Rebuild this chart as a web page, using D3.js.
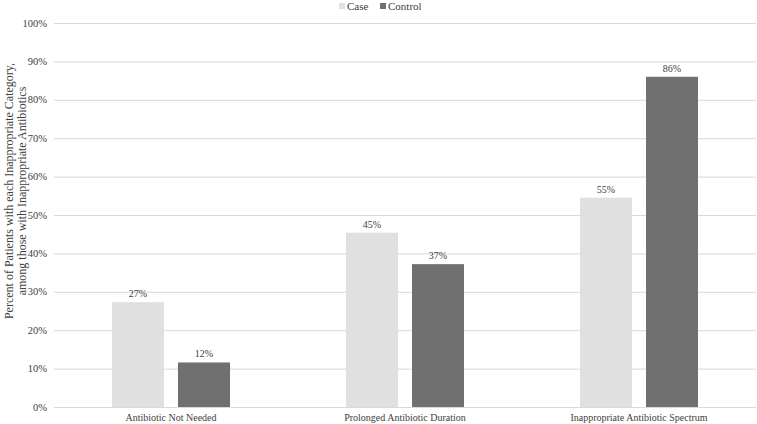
<!DOCTYPE html>
<html>
<head>
<meta charset="utf-8">
<script src="https://cdn.jsdelivr.net/npm/d3@7"></script>
<style>
  body { margin: 0; background: #fff; }
</style>
</head>
<body>
<div id="chart"></div>
<script>
var categories = ["Antibiotic Not Needed", "Prolonged Antibiotic Duration", "Inappropriate Antibiotic Spectrum"];
var seriesNames = ["Case", "Control"];
var caseValues = [27.3, 45.4, 54.5];
var controlValues = [11.6, 37.2, 86.0];
var yTicks = [0, 10, 20, 30, 40, 50, 60, 70, 80, 90, 100];
var colors = {Case: "#e0e0e0", Control: "#707070"};

var width = 757, height = 424;
var margin = {top: 23, right: 1, bottom: 17, left: 54};

var svg = d3.select("#chart").append("svg")
    .attr("width", width)
    .attr("height", height)
    .attr("font-family", "'Liberation Serif', 'DejaVu Serif', serif");

var x = d3.scaleBand().domain(categories).range([margin.left, width - margin.right]);
var y = d3.scaleLinear().domain([0, 100]).range([height - margin.bottom, margin.top]);

// gridlines
svg.append("g").selectAll("line")
    .data(yTicks)
    .enter().append("line")
    .attr("x1", margin.left)
    .attr("x2", width - margin.right)
    .attr("y1", function(d) { return y(d) + 0.5; })
    .attr("y2", function(d) { return y(d) + 0.5; })
    .attr("stroke", "#d9d9d9")
    .attr("stroke-width", 1);

// y tick labels
svg.append("g").selectAll("text")
    .data(yTicks)
    .enter().append("text")
    .attr("x", margin.left - 7)
    .attr("y", function(d) { return y(d); })
    .attr("dy", "0.35em")
    .attr("text-anchor", "end")
    .attr("font-size", 10.5)
    .attr("fill", "#404040")
    .text(function(d) { return d + "%"; });

// y axis title
var title = svg.append("text")
    .attr("transform", "translate(13,191) rotate(-90)")
    .attr("text-anchor", "middle")
    .attr("font-size", 12)
    .attr("fill", "#404040");
title.append("tspan").attr("x", 0).attr("dy", 0).text("Percent of Patients with each Inappropriate Category,");
title.append("tspan").attr("x", 0).attr("dy", 12.5).text("among those with Inappropriate Antibiotics");

var barW = 52, gap = 14;
var data = [];
categories.forEach(function(c, i) {
    data.push({cat: c, series: "Case", value: caseValues[i], idx: 0});
    data.push({cat: c, series: "Control", value: controlValues[i], idx: 1});
});

function barX(d) {
    var center = x(d.cat) + x.bandwidth() / 2;
    return d.idx == 0 ? center - gap / 2 - barW : center + gap / 2;
}

svg.append("g").selectAll("rect")
    .data(data)
    .enter().append("rect")
    .attr("x", barX)
    .attr("width", barW)
    .attr("y", function(d) { return y(d.value); })
    .attr("height", function(d) { return y(0) - y(d.value); })
    .attr("fill", function(d) { return colors[d.series]; });

svg.append("g").selectAll("text")
    .data(data)
    .enter().append("text")
    .attr("x", function(d) { return barX(d) + barW / 2; })
    .attr("y", function(d) { return y(d.value) - 5; })
    .attr("text-anchor", "middle")
    .attr("font-size", 10)
    .attr("fill", "#404040")
    .text(function(d) { return Math.round(d.value) + "%"; });

// category labels
svg.append("g").selectAll("text")
    .data(categories)
    .enter().append("text")
    .attr("x", function(d) { return x(d) + x.bandwidth() / 2; })
    .attr("y", height - margin.bottom + 14)
    .attr("text-anchor", "middle")
    .attr("font-size", 10)
    .attr("fill", "#404040")
    .text(function(d) { return d; });

// legend
var legend = svg.append("g").selectAll("g")
    .data(seriesNames)
    .enter().append("g")
    .attr("transform", function(d, i) { return "translate(" + (339 + i * 41) + ", 0)"; });

legend.append("rect")
    .attr("x", 0)
    .attr("y", 3)
    .attr("width", 6)
    .attr("height", 6)
    .attr("fill", function(d) { return colors[d]; });

legend.append("text")
    .attr("x", 8)
    .attr("y", 6)
    .attr("dy", "0.35em")
    .attr("font-size", 11)
    .attr("fill", "#404040")
    .text(function(d) { return d; });
</script>
</body>
</html>
